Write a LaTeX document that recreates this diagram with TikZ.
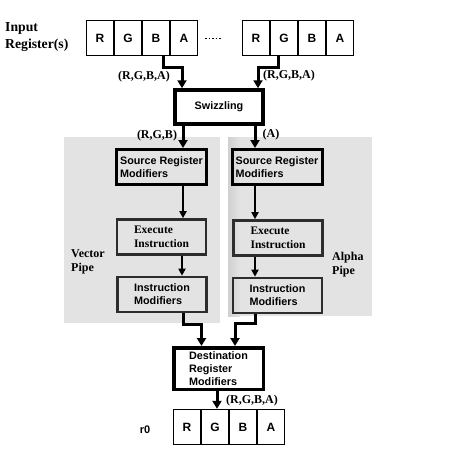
\documentclass[tikz,border=0pt]{standalone}
\usepackage{fontspec}
\setmainfont{Liberation Serif}
\setsansfont{Liberation Sans}
\usetikzlibrary{arrows.meta}
\definecolor{panelgray}{RGB}{227,227,227}
\definecolor{stripgray}{RGB}{208,208,208}
\definecolor{stagegray}{RGB}{45,45,45}
\tikzset{
	reg/.style={draw,line width=1.4pt,minimum width=27pt,minimum height=35pt,inner sep=0pt,font=\sffamily\bfseries\fontsize{12}{14}\selectfont},
	bigbox/.style 2 args={draw,line width=3.5pt,minimum width=#1,minimum height=#2,inner sep=0pt,align=left,font=\sffamily\bfseries\fontsize{10.8}{13}\selectfont},
	srcbox/.style={draw,line width=3pt,minimum width=90pt,minimum height=35pt,inner sep=0pt,align=left,font=\sffamily\bfseries\fontsize{10.8}{13}\selectfont},
	stagebox/.style={draw=stagegray,line width=2.6pt,minimum width=89pt,minimum height=35pt,inner sep=0pt,align=left,font=\sffamily\bfseries\fontsize{10.8}{13}\selectfont},
	lbl/.style={inner sep=0pt,align=left,font=\rmfamily\bfseries\fontsize{12}{14}\selectfont},
	flow/.style={line width=3pt,-{Triangle[width=9pt,length=8pt]}},
	pipeflow/.style={line width=2pt,-{Triangle[width=7pt,length=7pt]}}
}

\begin{document}
\begin{tikzpicture}[x=1pt,y=-1pt]
	\useasboundingbox (0,0) rectangle (450,450);

	% pipe panels
	\fill [panelgray] (64,137) rectangle (220,323);
	\fill [panelgray] (228,137) rectangle (372,316);
	\shade [left color=stripgray,right color=panelgray] (228,137) rectangle (240,316);

	% input registers
	\node [lbl,anchor=west,font=\rmfamily\bfseries\fontsize{13.7}{17}\selectfont] (inlbl) at (5,37) {Input\\Register(s)};
	\node [reg] (lR) at (100,38) {R};
	\node [reg] (lG) at (128,38) {G};
	\node [reg] (lB) at (156,38) {B};
	\node [reg] (lA) at (184,38) {A};
	\node [reg] (rR) at (256,38) {R};
	\node [reg] (rG) at (284,38) {G};
	\node [reg] (rB) at (312,38) {B};
	\node [reg] (rA) at (340,38) {A};
	\draw [line width=1pt,dash pattern=on 1.5pt off 2pt] ([xshift=7]lA.east) -- ([xshift=-20]rR.west);

	\node [bigbox={88pt}{34pt}] (swz) at (219,107) {Swizzling};

	% vector pipe
	\node [srcbox] (vsrc) at (161.5,167) {Source Register\\Modifiers};
	\node [stagebox,font=\rmfamily\bfseries\fontsize{11.5}{14}\selectfont] (vexe) at (161.5,237) {Execute\\Instruction};
	\node [stagebox] (vmod) at (162,294.5) {Instruction\\Modifiers};
	\node [lbl,anchor=west] (vlbl) at (71,262) {Vector\\Pipe};

	% alpha pipe
	\node [srcbox] (asrc) at (277,167) {Source Register\\Modifiers};
	\node [stagebox,font=\rmfamily\bfseries\fontsize{11.5}{14}\selectfont] (aexe) at (278,238) {Execute\\Instruction};
	\node [stagebox] (amod) at (277.5,295.5) {Instruction\\Modifiers};
	\node [lbl,anchor=west] (albl) at (332,265) {Alpha\\Pipe};

	\node [bigbox={89.5pt}{41.5pt}] (dst) at (218.5,368.5) {Destination\\Register\\Modifiers};

	% output register
	\node [inner sep=0pt,font=\sffamily\bfseries\fontsize{11}{13}\selectfont] (outlbl) at (145,430) {r0};
	\node [reg] (oR) at (187,427) {R};
	\node [reg] (oG) at (215,427) {G};
	\node [reg] (oB) at (243,427) {B};
	\node [reg] (oA) at (271,427) {A};

	% connectors
	\draw [flow] ([xshift=7]lB.south) -- ++(0,11) -| ([xshift=-37]swz.north);
	\draw [flow] ([xshift=-6]rG.south) -- ++(0,11) -| ([xshift=39]swz.north);
	\node [lbl] (inl) at (144,77) {(R,G,B,A)};
	\node [lbl] (inr) at (289,76) {(R,G,B,A)};

	\draw [flow] ([xshift=-36]swz.south) -- ([xshift=21.5]vsrc.north);
	\draw [flow] ([xshift=36]swz.south) -- ([xshift=-22]asrc.north);
	\node [lbl] (rgb) at (157,136) {(R,G,B)};
	\node [lbl] (alp) at (271,135) {(A)};

	\draw [pipeflow] ([xshift=21.5]vsrc.south) -- ([xshift=21.5]vexe.north);
	\draw [pipeflow] ([xshift=20.5]vexe.south) -- ([xshift=20]vmod.north);
	\draw [pipeflow] ([xshift=-22]asrc.south) -- ([xshift=-23]aexe.north);
	\draw [pipeflow] ([xshift=-23]aexe.south) -- ([xshift=-22.5]amod.north);

	\draw [flow] ([xshift=21]vmod.south) -- ++(0,11) -| ([xshift=-17]dst.north);
	\draw [flow] ([xshift=-22.5]amod.south) -- ++(0,9.5) -| ([xshift=16.5]dst.north);

	\draw [flow] ([xshift=-1.5]dst.south) -- ([xshift=2]oG.north);
	\node [lbl] (outl) at (252,401) {(R,G,B,A)};
\end{tikzpicture}
\end{document}
